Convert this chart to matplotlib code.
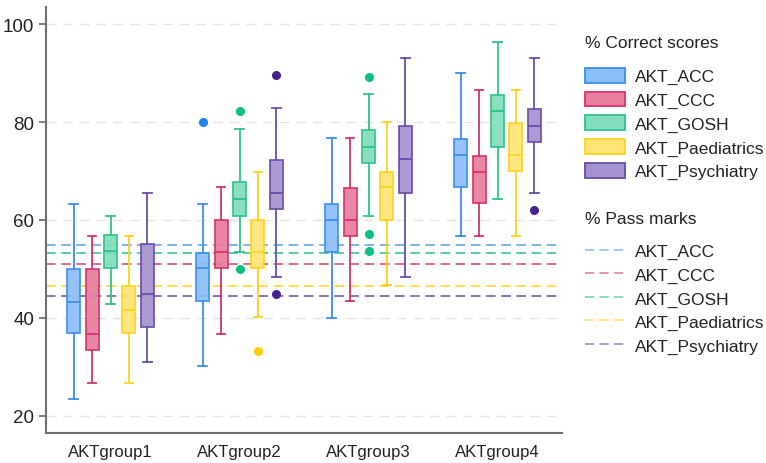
import matplotlib
matplotlib.use("Agg")
import matplotlib.pyplot as plt
from matplotlib.patches import Patch
from matplotlib.lines import Line2D
import numpy as np

plt.rcParams['font.family'] = ['Liberation Sans', 'DejaVu Sans']

groups = ["AKTgroup1", "AKTgroup2", "AKTgroup3", "AKTgroup4"]
series = ["AKT_ACC", "AKT_CCC", "AKT_GOSH", "AKT_Paediatrics", "AKT_Psychiatry"]

acc_lo = [23.4, 30.1, 40.0, 56.7]
acc_q1 = [36.9, 43.5, 53.4, 66.8]
acc_med = [43.3, 50.1, 60.1, 73.3]
acc_q3 = [50.0, 53.2, 63.2, 76.5]
acc_hi = [63.3, 63.3, 76.7, 90.0]
acc_out = [[], [80.1], [], []]

ccc_lo = [26.7, 36.7, 43.4, 56.7]
ccc_q1 = [33.5, 50.1, 56.8, 63.5]
ccc_med = [36.7, 53.4, 60.1, 69.9]
ccc_q3 = [50.0, 59.9, 66.5, 73.1]
ccc_hi = [56.7, 66.7, 76.7, 86.6]
ccc_out = [[], [], [], []]

gosh_lo = [42.9, 53.5, 60.8, 64.3]
gosh_q1 = [50.1, 60.9, 71.6, 75.0]
gosh_med = [53.6, 64.3, 75.0, 82.2]
gosh_q3 = [57.0, 67.7, 78.4, 85.6]
gosh_hi = [60.8, 78.6, 85.7, 96.4]
gosh_out = [[], [82.2, 50.0], [89.2, 57.1, 53.6], []]

paed_lo = [26.7, 40.1, 46.7, 56.7]
paed_q1 = [36.9, 50.1, 60.1, 70.1]
paed_med = [41.7, 53.4, 66.7, 73.3]
paed_q3 = [46.6, 59.9, 69.9, 79.8]
paed_hi = [56.7, 69.9, 80.1, 86.6]
paed_out = [[], [33.3], [], []]

psy_lo = [31.1, 48.3, 48.3, 65.5]
psy_q1 = [38.1, 62.2, 65.5, 75.9]
psy_med = [44.8, 65.5, 72.4, 79.2]
psy_q3 = [55.0, 72.3, 79.1, 82.7]
psy_hi = [65.5, 82.8, 93.1, 93.0]
psy_out = [[], [89.7, 44.9], [], [62.0]]

pass_marks = [54.8, 51.0, 53.3, 46.6, 44.4]

edge_colors = ["#3d8ef0", "#d6336c", "#2cc38a", "#fdd21e", "#6a4ca8"]
face_colors = ["#8bbff7", "#e87c9c", "#82ddbc", "#fee574", "#a593cf"]
out_colors = ["#1f82f2", "#d6336c", "#0fc07c", "#ffcc00", "#45228f"]
pass_colors = ["#5ea2ef", "#dc4a7b", "#2fc48e", "#ffd42a", "#6e55ad"]

all_stats = [
    (acc_lo, acc_q1, acc_med, acc_q3, acc_hi, acc_out),
    (ccc_lo, ccc_q1, ccc_med, ccc_q3, ccc_hi, ccc_out),
    (gosh_lo, gosh_q1, gosh_med, gosh_q3, gosh_hi, gosh_out),
    (paed_lo, paed_q1, paed_med, paed_q3, paed_hi, paed_out),
    (psy_lo, psy_q1, psy_med, psy_q3, psy_hi, psy_out),
]

fig = plt.figure(figsize=(7.66, 4.64), dpi=100)
ax = fig.add_axes([46 / 766, 1 - 434 / 464, (562 - 46) / 766, (434 - 8) / 464])

ax.set_xlim(-0.5, 3.5)
ax.set_ylim(16.5, 103.5)

# grid
for yv in [20, 40, 60, 80, 100]:
    ax.axhline(yv, color="#e4e4e4", lw=1.0, ls=(0, (7, 5)), zorder=0)

# pass-mark lines
for i, pm in enumerate(pass_marks):
    ax.axhline(pm, color=pass_colors[i], lw=1.15, ls=(0, (6, 3.5)), zorder=1)

x = np.arange(len(groups))
offsets = np.array([-2, -1, 0, 1, 2]) * 0.143
for i, (lo, q1, med, q3, hi, out) in enumerate(all_stats):
    stats = [dict(whislo=lo[g], q1=q1[g], med=med[g], q3=q3[g], whishi=hi[g],
                  fliers=out[g]) for g in range(len(groups))]
    ec = edge_colors[i]
    ax.bxp(stats, positions=x + offsets[i], widths=0.1, capwidths=0.065,
           patch_artist=True, manage_ticks=False,
           boxprops=dict(facecolor=face_colors[i], edgecolor=ec, linewidth=1.3, alpha=0.92),
           medianprops=dict(color=ec, linewidth=1.3),
           whiskerprops=dict(color=ec, linewidth=1.3),
           capprops=dict(color=ec, linewidth=1.3),
           flierprops=dict(marker='o', markerfacecolor=out_colors[i],
                           markeredgecolor=out_colors[i], markersize=5.5),
           zorder=3)

ax.set_xticks(x)
ax.set_xticklabels(groups, fontsize=12, color="#222222")
ax.set_yticks([20, 40, 60, 80, 100])
ax.tick_params(axis='y', labelsize=13.5, colors="#666666", length=5, width=1.2, labelcolor="#222222")
ax.tick_params(axis='x', length=0, pad=8)
for s in ["top", "right"]:
    ax.spines[s].set_visible(False)
for s in ["left", "bottom"]:
    ax.spines[s].set_color("#6e6e6e")
    ax.spines[s].set_linewidth(1.5)

# legends
LFS = 12.5
fig.text(585 / 766, 1 - 44 / 464, "% Correct scores", fontsize=LFS, color="#222222",
         ha="left", va="center")
fig.text(585 / 766, 1 - 220 / 464, "% Pass marks", fontsize=LFS, color="#222222",
         ha="left", va="center")

box_handles = [Patch(facecolor=face_colors[i], edgecolor=edge_colors[i], linewidth=1.3)
               for i in range(len(series))]
leg1 = fig.legend(box_handles, series, loc="upper left",
                  bbox_to_anchor=(585 / 766, 1 - 69 / 464), frameon=False,
                  fontsize=LFS, handlelength=2.3, handleheight=0.92, handletextpad=0.55,
                  labelspacing=0.42, borderaxespad=0, borderpad=0)
line_handles = [Line2D([0], [0], color=pass_colors[i], lw=1.1, ls=(0, (6, 3.5)), alpha=0.75)
                for i in range(len(series))]
leg2 = fig.legend(line_handles, series, loc="upper left",
                  bbox_to_anchor=(585 / 766, 1 - 244 / 464), frameon=False,
                  fontsize=LFS, handlelength=2.3, handleheight=0.92, handletextpad=0.55,
                  labelspacing=0.41, borderaxespad=0, borderpad=0)
for lg in (leg1, leg2):
    for t in lg.get_texts():
        t.set_color("#222222")

fig.savefig("out.png", dpi=100)
